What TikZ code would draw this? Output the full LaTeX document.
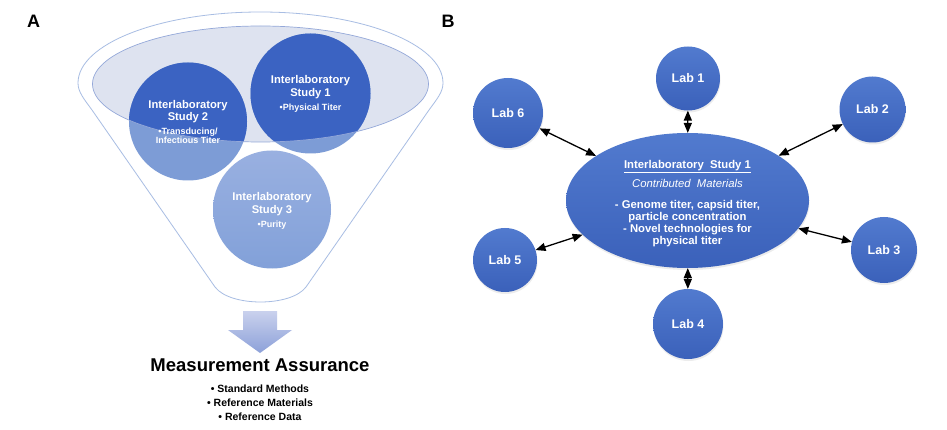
\documentclass[tikz,border=0pt]{standalone}
\usepackage{fontspec}
\setmainfont{Liberation Sans}
\usetikzlibrary{arrows,shapes.geometric,shadows}
\definecolor{labtop}{rgb}{0.32,0.48,0.81}
\definecolor{labbot}{rgb}{0.23,0.38,0.73}
\definecolor{stdark}{rgb}{0.23,0.39,0.76}
\definecolor{stlight}{rgb}{0.49,0.61,0.84}
\definecolor{stpaletop}{rgb}{0.60,0.69,0.88}
\definecolor{stpalebot}{rgb}{0.51,0.63,0.85}
\definecolor{ellfill}{rgb}{0.87,0.89,0.94}
\definecolor{ellline}{rgb}{0.58,0.66,0.85}
\definecolor{rimline}{rgb}{0.66,0.74,0.89}
\definecolor{arrtop}{rgb}{0.79,0.82,0.93}
\definecolor{arrbot}{rgb}{0.55,0.63,0.85}
\newcommand{\bulsize}{\fontsize{9}{10.5}\selectfont}
\tikzset{
  lab/.style={circle,inner sep=0pt,top color=labtop,bottom color=labbot,text=white,
    font=\fontsize{12.5}{14}\selectfont\bfseries,drop shadow={shadow xshift=0.5pt,shadow yshift=-2pt,opacity=0.15}},
  hub/.style={ellipse,inner sep=0pt,minimum width=243pt,minimum height=135pt,
    top color=labtop,bottom color=labbot,drop shadow={shadow xshift=0.5pt,shadow yshift=-2pt,opacity=0.15}},
  hubtext/.style={text=white,align=center,font=\fontsize{11.3}{12}\selectfont\bfseries},
  sttext/.style={align=center,text=white,font=\fontsize{11.2}{12.3}\selectfont\bfseries},
  link/.style={<->,line width=1.3pt,black}
}
\begin{document}
\begin{tikzpicture}[line cap=round,line join=round,>=triangle 45,x=1pt,y=-1pt]
\useasboundingbox[fill=white] (0,0) rectangle (947,430);
% panel letters
\node[font=\fontsize{18}{20}\selectfont\bfseries] (pa) at (33.5,21) {A};
\node[font=\fontsize{18}{20}\selectfont\bfseries] (pb) at (448,21) {B};
% funnel
\draw[rimline,line width=0.8pt,fill=white] (215,287) -- (92,110) .. controls (84,99) and (78,92) .. (78,83)
  arc[start angle=180,end angle=360,x radius=182.5,y radius=71]
  .. controls (443,92) and (437,99) .. (429,110) -- (306,287) .. controls (291,307) and (230,307) .. cycle;
\fill[ellfill] (260.5,84) ellipse [x radius=168,y radius=58];
\fill[stlight] (310.5,93.5) circle (60);
\fill[stlight] (188,121.5) circle (59);
\shade[top color=stpaletop,bottom color=stpalebot] (272,209.5) circle (59);
\begin{scope}
\clip (260.5,84) ellipse [x radius=168,y radius=58];
\fill[stdark] (310.5,93.5) circle (60);
\fill[stdark] (188,121.5) circle (59);
\end{scope}
\draw[ellline,line width=0.7pt] (260.5,84) ellipse [x radius=168,y radius=58];
\node[sttext] (stone) at (310.5,94) {Interlaboratory\\Study 1\\[2pt]\bulsize •Physical Titer};
\node[sttext] (sttwo) at (188,122) {Interlaboratory\\Study 2\\[1pt]\bulsize •Transducing/\\[-3pt]\bulsize Infectious Titer};
\node[sttext] (stthree) at (272,211) {Interlaboratory\\Study 3\\[2pt]\bulsize •Purity};
% block arrow
\shade[top color=arrtop,bottom color=arrbot] (243,311) -- (277,311) -- (277,330) -- (292,330)
  -- (260,353) -- (228,330) -- (243,330) -- cycle;
\node[font=\fontsize{18.5}{20}\selectfont\bfseries] (meas) at (260,365) {Measurement Assurance};
\node[align=center,font=\fontsize{10.5}{14}\selectfont\bfseries] (measlist) at (260,402.5)
  {• Standard Methods\\• Reference Materials\\• Reference Data};
% panel B
\node[hub] (hub) at (687.5,200.5) {};
\node[hubtext] (hubtext) at (687.5,203.5) {\underline{Interlaboratory\ \ Study 1}\\[5pt]
  {\mdseries\itshape Contributed\ \ Materials}\\[9pt]
  - Genome titer, capsid titer,\\particle concentration\\- Novel technologies for\\physical titer};
\foreach \n/\x/\y/\r in {1/688/78.5/32,2/872.5/109.5/33,3/884/250/33,4/688/324/35,5/505/260/32,6/508/113/35}
  \node[lab,minimum size=\r*2pt] (lab\n) at (\x,\y) {Lab \n};
\foreach \n in {1,...,6}
  \draw[link] (lab\n) -- (hub);
\end{tikzpicture}
\end{document}
